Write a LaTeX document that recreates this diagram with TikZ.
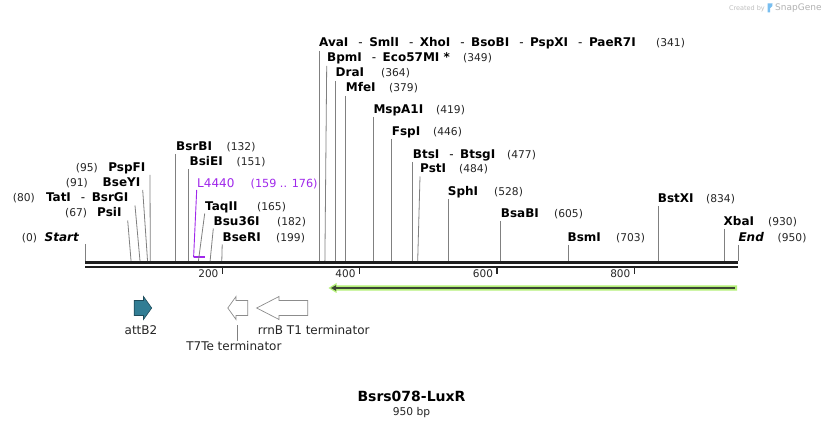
\documentclass[tikz,border=0pt]{standalone}
\usepackage{fontspec}
\setmainfont{DejaVu Sans}
\definecolor{featpurple}{RGB}{160,40,235}
\definecolor{attteal}{RGB}{49,125,148}
\definecolor{attedge}{RGB}{30,75,90}
\definecolor{glowgreen}{RGB}{180,240,120}
\definecolor{darkline}{RGB}{60,70,52}
\definecolor{wmblue}{RGB}{120,190,240}
\newcommand\enzsep{{\mdseries\hspace{10pt}-\hspace{6.5pt}}}
\newcommand\enzsepw{{\mdseries\hspace{10pt}-\hspace{6.5pt}}}
\tikzset{
  enz/.style={inner sep=0pt, font=\fontsize{12}{14}\selectfont\bfseries, text=black},
  posn/.style={inner sep=0pt, font=\fontsize{10.7}{12}\selectfont, text=black!85},
  site/.style={draw=black!50, line width=0.8pt},
  tickmark/.style={draw=black!85, line width=1.6pt},
  ticklab/.style={inner sep=0pt, font=\fontsize{10.5}{12}\selectfont, text=black!85, anchor=base east},
  featlab/.style={inner sep=0pt, font=\fontsize{12}{14}\selectfont, text=black!85},
  termarrow/.style={draw=black!45, fill=white, line width=0.7pt},
}
\begin{document}
\begin{tikzpicture}[x=1pt,y=-1pt]
\useasboundingbox[fill=white] (0,0) rectangle (824,427);

% watermark
\node[inner sep=0pt, font=\fontsize{6.5}{7}\selectfont, text=black!25, anchor=base east] (wm1) at (765,10.5) {Created by};
\fill[wmblue] (767.5,3.5) -- (772.5,3.5) .. controls (773.5,5.5) and (771.5,7.5) .. (770.2,8) -- (770.2,12.5) -- (767.5,12.5) -- cycle;
\node[inner sep=0pt, font=\fontsize{9}{10}\selectfont, text=black!30, anchor=base west] (wm2) at (775,11) {SnapGene};

% sequence bar
\coordinate (barL1) at (85,262.5); \coordinate (barR1) at (738,262.5);
\coordinate (barL2) at (85,266.8); \coordinate (barR2) at (738,266.8);
\draw[black!88, line width=3pt] (barL1) -- (barR1);
\draw[black!88, line width=2.4pt] (barL2) -- (barR2);

% ticks
\foreach \lab/\xx in {200/222.4, 400/359.5, 600/497, 800/634.3}{
  \draw[tickmark] (\xx,267.5) -- (\xx,274.5);
  \node[ticklab] (tick\lab) at (\xx-3.8,278) {\lab};
}

% ---------- sites on the bar ----------
\coordinate (s0) at (85,261);
\coordinate (s67) at (131.05,261);
\coordinate (s80) at (139.99,261);
\coordinate (s91) at (147.55,261);
\coordinate (s95) at (150.3,261);
\coordinate (s132) at (175.73,261);
\coordinate (s151) at (188.79,261);
\coordinate (s165) at (198.42,261);
\coordinate (s182) at (210.1,261);
\coordinate (s199) at (221.79,261);
\coordinate (s341) at (319.39,261);
\coordinate (s349) at (324.89,261);
\coordinate (s364) at (335.2,261);
\coordinate (s379) at (345.51,261);
\coordinate (s419) at (373.01,261);
\coordinate (s446) at (391.57,261);
\coordinate (s477) at (412.88,261);
\coordinate (s484) at (417.69,261);
\coordinate (s528) at (447.93,261);
\coordinate (s605) at (500.86,261);
\coordinate (s703) at (568.22,261);
\coordinate (s834) at (658.27,261);
\coordinate (s930) at (724.26,261);
\coordinate (s950) at (738,261);

% ---------- left labels ----------
\node[enz, anchor=base east] (nStart) at (79,241.5) {\itshape Start};
\node[posn, anchor=base east] (pStart) at (37.3,241.5) {(0)};
\coordinate (tStart) at (85,244);
\draw[site] (tStart) -- (s0);

\node[enz, anchor=base east] (nPsiI) at (121.7,217) {PsiI};
\node[posn, anchor=base east] (pPsiI) at (87.3,217) {(67)};
\coordinate (tPsiI) at (127.7,220.5);
\draw[site] (tPsiI) -- (s67);

\node[enz, anchor=base east] (nTatI) at (128.5,202) {TatI\enzsep BsrGI};
\node[posn, anchor=base east] (pTatI) at (35,202) {(80)};
\coordinate (tTatI) at (135,205.5);
\draw[site] (tTatI) -- (s80);

\node[enz, anchor=base east] (nBseYI) at (140.5,187) {BseYI};
\node[posn, anchor=base east] (pBseYI) at (88,187) {(91)};
\coordinate (tBseYI) at (142.7,190);
\draw[site] (tBseYI) -- (s91);

\node[enz, anchor=base east] (nPspFI) at (145.5,172) {PspFI};
\node[posn, anchor=base east] (pPspFI) at (98,172) {(95)};
\coordinate (tPspFI) at (150,175);
\draw[site] (tPspFI) -- (s95);

% ---------- right-side labels near start ----------
\node[enz, anchor=base west] (nBsrBI) at (176,150.5) {BsrBI};
\node[posn, anchor=base west] (pBsrBI) at (226.5,150.5) {(132)};
\coordinate (tBsrBI) at (175.73,154);
\draw[site] (tBsrBI) -- (s132);

\node[enz, anchor=base west] (nBsiEI) at (189.5,165.5) {BsiEI};
\node[posn, anchor=base west] (pBsiEI) at (236.5,165.5) {(151)};
\coordinate (tBsiEI) at (188.79,169);
\draw[site] (tBsiEI) -- (s151);

% L4440 feature (purple)
\node[inner sep=0pt, font=\fontsize{12}{14}\selectfont, text=featpurple, anchor=base west] (nL4440) at (197,187.5) {L4440};
\node[inner sep=0pt, font=\fontsize{11.2}{12}\selectfont, text=featpurple, anchor=base west] (pL4440) at (250.5,187.5) {(159 .. 176)};
\coordinate (tL4440) at (196.7,190);
\coordinate (bL4440) at (193.6,257.3);
\coordinate (eL4440) at (205.2,257.3);
\draw[featpurple, line width=0.9pt] (tL4440) -- (bL4440);
\draw[featpurple, line width=2pt] (bL4440) -- (eL4440);

\node[enz, anchor=base west] (nTaqII) at (205,210.5) {TaqII};
\node[posn, anchor=base west] (pTaqII) at (257,210.5) {(165)};
\coordinate (tTaqII) at (204.7,213.5);
\draw[site] (tTaqII) -- (s165);

\node[enz, anchor=base west] (nBsu36I) at (213.5,225.5) {Bsu36I};
\node[posn, anchor=base west] (pBsu36I) at (277,225.5) {(182)};
\coordinate (tBsu36I) at (213.3,228.5);
\draw[site] (tBsu36I) -- (s182);

\node[enz, anchor=base west] (nBseRI) at (222.5,241.5) {BseRI};
\node[posn, anchor=base west] (pBseRI) at (276,241.5) {(199)};
\coordinate (tBseRI) at (222.2,244.5);
\draw[site] (tBseRI) -- (s199);

% ---------- top cluster ----------
\node[enz, anchor=base west] (nAvaI) at (319,47) {AvaI\enzsepw SmlI\enzsepw XhoI\enzsepw BsoBI\enzsepw PspXI\enzsepw PaeR7I};
\node[posn, anchor=base west] (pAvaI) at (656,47) {(341)};
\coordinate (tAvaI) at (319.39,51);
\draw[site] (tAvaI) -- (s341);

\node[enz, anchor=base west] (nBpmI) at (327,62) {BpmI\enzsep Eco57MI *};
\node[posn, anchor=base west] (pBpmI) at (463,62) {(349)};
\coordinate (tBpmI) at (326.7,66);
\draw[site] (tBpmI) -- (s349);

\node[enz, anchor=base west] (nDraI) at (335.5,77) {DraI};
\node[posn, anchor=base west] (pDraI) at (381,77) {(364)};
\coordinate (tDraI) at (335.2,81);
\draw[site] (tDraI) -- (s364);

\node[enz, anchor=base west] (nMfeI) at (345.7,92) {MfeI};
\node[posn, anchor=base west] (pMfeI) at (389,92) {(379)};
\coordinate (tMfeI) at (345.51,96);
\draw[site] (tMfeI) -- (s379);

\node[enz, anchor=base west] (nMspA1I) at (373.3,113.5) {MspA1I};
\node[posn, anchor=base west] (pMspA1I) at (436,113.5) {(419)};
\coordinate (tMspA1I) at (373.01,117);
\draw[site] (tMspA1I) -- (s419);

\node[enz, anchor=base west] (nFspI) at (391.7,135.5) {FspI};
\node[posn, anchor=base west] (pFspI) at (433,135.5) {(446)};
\coordinate (tFspI) at (391.57,139);
\draw[site] (tFspI) -- (s446);

\node[enz, anchor=base west] (nBtsI) at (412.7,158.5) {BtsI\enzsep BtsgI};
\node[posn, anchor=base west] (pBtsI) at (507,158.5) {(477)};
\coordinate (tBtsI) at (412.88,162);
\draw[site] (tBtsI) -- (s477);

\node[enz, anchor=base west] (nPstI) at (420,173) {PstI};
\node[posn, anchor=base west] (pPstI) at (459,173) {(484)};
\coordinate (tPstI) at (420,176.5);
\draw[site] (tPstI) -- (s484);

\node[enz, anchor=base west] (nSphI) at (447.7,195.5) {SphI};
\node[posn, anchor=base west] (pSphI) at (494,195.5) {(528)};
\coordinate (tSphI) at (447.93,199);
\draw[site] (tSphI) -- (s528);

\node[enz, anchor=base west] (nBsaBI) at (500.7,217.5) {BsaBI};
\node[posn, anchor=base west] (pBsaBI) at (554,217.5) {(605)};
\coordinate (tBsaBI) at (500.86,221);
\draw[site] (tBsaBI) -- (s605);

\node[enz, anchor=base west] (nBsmI) at (567.5,241.5) {BsmI};
\node[posn, anchor=base west] (pBsmI) at (616,241.5) {(703)};
\coordinate (tBsmI) at (568.22,245);
\draw[site] (tBsmI) -- (s703);

\node[enz, anchor=base west] (nBstXI) at (657.7,202.5) {BstXI};
\node[posn, anchor=base west] (pBstXI) at (706,202.5) {(834)};
\coordinate (tBstXI) at (658.27,206);
\draw[site] (tBstXI) -- (s834);

\node[enz, anchor=base west] (nXbaI) at (723.5,225.5) {XbaI};
\node[posn, anchor=base west] (pXbaI) at (768,225.5) {(930)};
\coordinate (tXbaI) at (724.26,229);
\draw[site] (tXbaI) -- (s930);

\node[enz, anchor=base west] (nEnd) at (738.3,241.5) {\itshape End};
\node[posn, anchor=base west] (pEnd) at (777.5,241.5) {(950)};
\coordinate (tEnd) at (738,245);
\draw[site] (tEnd) -- (s950);

% ---------- green ORF arrow ----------
\fill[glowgreen] (328.5,288) -- (336.5,283) -- (336.5,285.3) -- (737,285.3) -- (737,290.7) -- (336.5,290.7) -- (336.5,293) -- cycle;
\coordinate (orfR) at (734.5,288);
\coordinate (orfL) at (334,288);
\draw[darkline, line width=1.7pt] (orfR) -- (orfL);
\fill[darkline] (331,288) -- (336,285.2) -- (336,290.8) -- cycle;

% ---------- features ----------
\filldraw[fill=attteal, draw=attedge, line width=0.6pt]
  (134.2,300.5) -- (143.5,300.5) -- (143.5,296.5) -- (151.7,308) -- (143.5,319.5) -- (143.5,315.5) -- (134.2,315.5) -- cycle;
\node[featlab, anchor=base] (lattB2) at (141,334.5) {attB2};

\filldraw[termarrow]
  (227.8,308) -- (236,296.5) -- (236,300.5) -- (247.7,300.5) -- (247.7,315.5) -- (236,315.5) -- (236,319.5) -- cycle;
\coordinate (t7top) at (237.3,325.5);
\node[featlab, anchor=base] (lT7Te) at (233.9,350) {T7Te terminator};
\draw[black!50, line width=0.7pt] (t7top) -- (lT7Te.north -| t7top);

\filldraw[termarrow]
  (256.7,308) -- (279,296.5) -- (279,300.5) -- (307.7,300.5) -- (307.7,315.5) -- (279,315.5) -- (279,319.5) -- cycle;
\node[featlab, anchor=base west] (lrrnB) at (257.7,334.5) {rrnB T1 terminator};

% ---------- title ----------
\node[inner sep=0pt, font=\fontsize{14}{16}\selectfont\bfseries, text=black, anchor=base] (title) at (411.5,401) {Bsrs078-LuxR};
\node[inner sep=0pt, font=\fontsize{10.7}{12}\selectfont, text=black!85, anchor=base] (bp) at (411.5,415) {950 bp};
\end{tikzpicture}
\end{document}
